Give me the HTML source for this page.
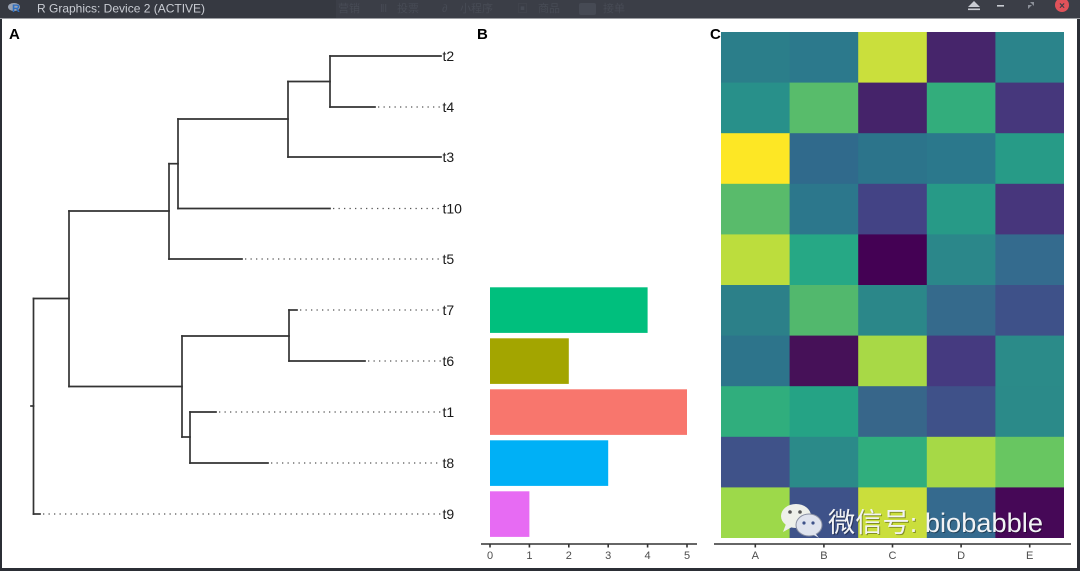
<!DOCTYPE html>
<html>
<head>
<meta charset="utf-8">
<style>
html,body{margin:0;padding:0;background:#2b2e35;}
svg{display:block;}
text{font-family:"Liberation Sans","Noto Sans CJK SC",sans-serif;}
</style>
</head>
<body>
<svg width="1080" height="571" viewBox="0 0 1080 571" xmlns="http://www.w3.org/2000/svg">
  <!-- window frame -->
  <rect x="0" y="0" width="1080" height="571" fill="#2b2e35"/>
  <rect x="0" y="0" width="1080" height="18" fill="#3b3e47"/>
  <rect x="0" y="0" width="336" height="18" fill="#363941"/>
  <rect x="0" y="18" width="1080" height="1" fill="#9c9ea3"/>
  <rect x="2" y="19" width="1075" height="549" fill="#ffffff"/>

  <!-- title bar -->
  <ellipse cx="14" cy="7" rx="6" ry="4" fill="#9aa3b3"/>
  <text x="12" y="12" font-size="11" font-weight="bold" fill="#2f6fc0">R</text>
  <text x="37" y="12.5" font-size="12" fill="#c9ccd3">R Graphics: Device 2 (ACTIVE)</text>
  <g font-size="11" fill="#474b55">
    <text x="338" y="12">营销</text>
    <text x="380" y="12">‖l</text>
    <text x="397" y="12">投票</text>
    <text x="442" y="12">∂</text>
    <text x="460" y="12">小程序</text>
    <text x="517" y="12">▣</text>
    <text x="538" y="12">商品</text>
    <rect x="579" y="3" width="17" height="12" rx="2" fill="#464a54"/>
    <text x="603" y="12">接单</text>
  </g>
  <polygon points="968,7 974,1 980,7" fill="#c9ccd3"/>
  <rect x="968" y="8.5" width="12" height="1.6" fill="#c9ccd3"/>
  <rect x="997" y="5" width="7" height="1.6" fill="#c9ccd3"/>
  <polygon points="1028,9 1028,5 1032,5" fill="#8c9099"/>
  <polygon points="1034,2 1034,6 1030,2" fill="#8c9099"/>
  <circle cx="1062" cy="5" r="7" fill="#e0525a"/>
  <text x="1062" y="9" font-size="10" font-weight="bold" fill="#3b3e47" text-anchor="middle">×</text>

  <!-- panel labels -->
  <text x="9" y="39" font-size="15" font-weight="bold" fill="#000">A</text>
  <text x="477" y="39" font-size="15" font-weight="bold" fill="#000">B</text>
  <text x="710" y="39" font-size="15" font-weight="bold" fill="#000">C</text>

  <!-- tree solid -->
  <g stroke="#333" stroke-width="1.7" fill="none" stroke-linecap="square">
    <line x1="33.5" y1="298.5" x2="33.5" y2="514"/>
    <line x1="31" y1="406" x2="33.5" y2="406"/>
    <line x1="33.5" y1="298.5" x2="69" y2="298.5"/>
    <line x1="69" y1="211" x2="69" y2="386.5"/>
    <line x1="69" y1="211" x2="169" y2="211"/>
    <line x1="169" y1="163.7" x2="169" y2="259"/>
    <line x1="169" y1="163.7" x2="178" y2="163.7"/>
    <line x1="178" y1="119" x2="178" y2="208.5"/>
    <line x1="178" y1="119" x2="288" y2="119"/>
    <line x1="288" y1="81.5" x2="288" y2="157"/>
    <line x1="288" y1="81.5" x2="330" y2="81.5"/>
    <line x1="330" y1="56" x2="330" y2="107"/>
    <line x1="330" y1="56" x2="441" y2="56"/>
    <line x1="330" y1="107" x2="375" y2="107"/>
    <line x1="288" y1="157" x2="441" y2="157"/>
    <line x1="178" y1="208.5" x2="330" y2="208.5"/>
    <line x1="169" y1="259" x2="242" y2="259"/>
    <line x1="69" y1="386.5" x2="182" y2="386.5"/>
    <line x1="182" y1="336" x2="182" y2="437"/>
    <line x1="182" y1="336" x2="289" y2="336"/>
    <line x1="289" y1="310" x2="289" y2="361"/>
    <line x1="289" y1="310" x2="297" y2="310"/>
    <line x1="289" y1="361" x2="365" y2="361"/>
    <line x1="182" y1="437" x2="190" y2="437"/>
    <line x1="190" y1="412" x2="190" y2="463"/>
    <line x1="190" y1="412" x2="216" y2="412"/>
    <line x1="190" y1="463" x2="268" y2="463"/>
    <line x1="33.5" y1="514" x2="40" y2="514"/>
  </g>
  <!-- tree dotted -->
  <g stroke="#555" stroke-width="1.3" fill="none" stroke-dasharray="1.3 4.2">
    <line x1="378" y1="107" x2="441" y2="107"/>
    <line x1="333" y1="208.5" x2="441" y2="208.5"/>
    <line x1="245" y1="259" x2="441" y2="259"/>
    <line x1="300" y1="310" x2="441" y2="310"/>
    <line x1="368" y1="361" x2="441" y2="361"/>
    <line x1="219" y1="412" x2="441" y2="412"/>
    <line x1="271" y1="463" x2="441" y2="463"/>
    <line x1="43" y1="514" x2="441" y2="514"/>
  </g>
  <g font-size="14" fill="#1a1a1a">
    <text x="442.5" y="61">t2</text>
    <text x="442.5" y="112">t4</text>
    <text x="442.5" y="162">t3</text>
    <text x="442.5" y="213.5">t10</text>
    <text x="442.5" y="264">t5</text>
    <text x="442.5" y="315">t7</text>
    <text x="442.5" y="366">t6</text>
    <text x="442.5" y="417">t1</text>
    <text x="442.5" y="468">t8</text>
    <text x="442.5" y="519">t9</text>
  </g>

  <!-- bars -->
  <rect x="490" y="287.3" width="157.6" height="45.6" fill="#00BF7D"/>
  <rect x="490" y="338.3" width="78.8" height="45.6" fill="#A3A500"/>
  <rect x="490" y="389.3" width="197" height="45.6" fill="#F8766D"/>
  <rect x="490" y="440.3" width="118.2" height="45.6" fill="#00B0F6"/>
  <rect x="490" y="491.3" width="39.4" height="45.6" fill="#E76BF3"/>
  <g stroke="#333" stroke-width="1.6">
    <line x1="481" y1="544" x2="697" y2="544"/>
    <line x1="490" y1="544" x2="490" y2="547.5"/>
    <line x1="529.4" y1="544" x2="529.4" y2="547.5"/>
    <line x1="568.8" y1="544" x2="568.8" y2="547.5"/>
    <line x1="608.2" y1="544" x2="608.2" y2="547.5"/>
    <line x1="647.6" y1="544" x2="647.6" y2="547.5"/>
    <line x1="687" y1="544" x2="687" y2="547.5"/>
  </g>
  <g font-size="11" fill="#4d4d4d" text-anchor="middle">
    <text x="490" y="559">0</text>
    <text x="529.4" y="559">1</text>
    <text x="568.8" y="559">2</text>
    <text x="608.2" y="559">3</text>
    <text x="647.6" y="559">4</text>
    <text x="687" y="559">5</text>
  </g>

  <!-- heatmap -->
  <g>
    <rect x="721" y="32" width="69" height="51" fill="#2b7e8a"/>
    <rect x="789.6" y="32" width="69" height="51" fill="#2c798c"/>
    <rect x="858.2" y="32" width="69" height="51" fill="#cadf3c"/>
    <rect x="926.8" y="32" width="69" height="51" fill="#46256b"/>
    <rect x="995.4" y="32" width="68.6" height="51" fill="#2b848b"/>

    <rect x="721" y="82.6" width="69" height="51" fill="#28908a"/>
    <rect x="789.6" y="82.6" width="69" height="51" fill="#58bc6b"/>
    <rect x="858.2" y="82.6" width="69" height="51" fill="#45236a"/>
    <rect x="926.8" y="82.6" width="69" height="51" fill="#33ad7c"/>
    <rect x="995.4" y="82.6" width="68.6" height="51" fill="#46377c"/>

    <rect x="721" y="133.2" width="69" height="51" fill="#fde725"/>
    <rect x="789.6" y="133.2" width="69" height="51" fill="#306a8c"/>
    <rect x="858.2" y="133.2" width="69" height="51" fill="#2c748b"/>
    <rect x="926.8" y="133.2" width="69" height="51" fill="#2b788c"/>
    <rect x="995.4" y="133.2" width="68.6" height="51" fill="#279b87"/>

    <rect x="721" y="183.8" width="69" height="51" fill="#59bb6b"/>
    <rect x="789.6" y="183.8" width="69" height="51" fill="#2c778c"/>
    <rect x="858.2" y="183.8" width="69" height="51" fill="#434385"/>
    <rect x="926.8" y="183.8" width="69" height="51" fill="#279a87"/>
    <rect x="995.4" y="183.8" width="68.6" height="51" fill="#47367c"/>

    <rect x="721" y="234.4" width="69" height="51" fill="#bcdd3d"/>
    <rect x="789.6" y="234.4" width="69" height="51" fill="#26a885"/>
    <rect x="858.2" y="234.4" width="69" height="51" fill="#440154"/>
    <rect x="926.8" y="234.4" width="69" height="51" fill="#2b878a"/>
    <rect x="995.4" y="234.4" width="68.6" height="51" fill="#346b8e"/>

    <rect x="721" y="285" width="69" height="51" fill="#2c8089"/>
    <rect x="789.6" y="285" width="69" height="51" fill="#52b86d"/>
    <rect x="858.2" y="285" width="69" height="51" fill="#2b8789"/>
    <rect x="926.8" y="285" width="69" height="51" fill="#356a8c"/>
    <rect x="995.4" y="285" width="68.6" height="51" fill="#3e5189"/>

    <rect x="721" y="335.6" width="69" height="51" fill="#2d748b"/>
    <rect x="789.6" y="335.6" width="69" height="51" fill="#461158"/>
    <rect x="858.2" y="335.6" width="69" height="51" fill="#a8d946"/>
    <rect x="926.8" y="335.6" width="69" height="51" fill="#453a80"/>
    <rect x="995.4" y="335.6" width="68.6" height="51" fill="#2b8b89"/>

    <rect x="721" y="386.2" width="69" height="51" fill="#30ae7d"/>
    <rect x="789.6" y="386.2" width="69" height="51" fill="#25a385"/>
    <rect x="858.2" y="386.2" width="69" height="51" fill="#37668a"/>
    <rect x="926.8" y="386.2" width="69" height="51" fill="#3f5189"/>
    <rect x="995.4" y="386.2" width="68.6" height="51" fill="#2b8a89"/>

    <rect x="721" y="436.8" width="69" height="51" fill="#3f5289"/>
    <rect x="789.6" y="436.8" width="69" height="51" fill="#2b8a89"/>
    <rect x="858.2" y="436.8" width="69" height="51" fill="#30ae7d"/>
    <rect x="926.8" y="436.8" width="69" height="51" fill="#a6d946"/>
    <rect x="995.4" y="436.8" width="68.6" height="51" fill="#68c661"/>

    <rect x="721" y="487.4" width="69" height="50.6" fill="#9dd94a"/>
    <rect x="789.6" y="487.4" width="69" height="50.6" fill="#3e5289"/>
    <rect x="858.2" y="487.4" width="69" height="50.6" fill="#cade3c"/>
    <rect x="926.8" y="487.4" width="69" height="50.6" fill="#356a8e"/>
    <rect x="995.4" y="487.4" width="68.6" height="50.6" fill="#460857"/>
  </g>
  <g stroke="#333" stroke-width="1.6">
    <line x1="714" y1="544" x2="1071" y2="544"/>
    <line x1="755.3" y1="544" x2="755.3" y2="547.5"/>
    <line x1="823.9" y1="544" x2="823.9" y2="547.5"/>
    <line x1="892.5" y1="544" x2="892.5" y2="547.5"/>
    <line x1="961.1" y1="544" x2="961.1" y2="547.5"/>
    <line x1="1029.7" y1="544" x2="1029.7" y2="547.5"/>
  </g>
  <g font-size="11" fill="#4d4d4d" text-anchor="middle">
    <text x="755.3" y="559">A</text>
    <text x="823.9" y="559">B</text>
    <text x="892.5" y="559">C</text>
    <text x="961.1" y="559">D</text>
    <text x="1029.7" y="559">E</text>
  </g>

  <!-- watermark -->
  <g>
    <ellipse cx="796" cy="516" rx="15" ry="12" fill="#eef0ea"/>
    <polygon points="786,524 783,532 792,527" fill="#eef0ea"/>
    <ellipse cx="809" cy="525" rx="13" ry="11" fill="#dfe3ee" stroke="#8a90a3" stroke-width="1"/>
    <polygon points="815,533 819,538 812,534" fill="#dfe3ee"/>
    <circle cx="790" cy="512" r="1.8" fill="#555"/>
    <circle cx="800" cy="512" r="1.8" fill="#555"/>
    <circle cx="804" cy="523" r="1.6" fill="#3e5289"/>
    <circle cx="813" cy="523" r="1.6" fill="#3e5289"/>
    <text x="829" y="533" font-size="27" fill="#000" opacity="0.35" textLength="215" lengthAdjust="spacingAndGlyphs">微信号: biobabble</text>
    <text x="828" y="532" font-size="27" fill="#f2f3f5" textLength="215" lengthAdjust="spacingAndGlyphs">微信号: biobabble</text>
  </g>
</svg>
</body>
</html>
